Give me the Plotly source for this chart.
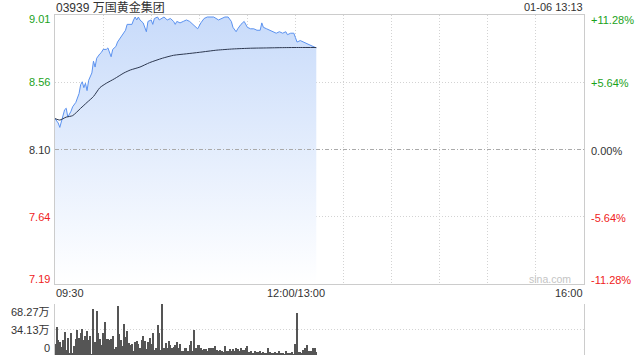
import plotly.graph_objects as go

# ---------------- data ----------------
title_text = "03939 万国黄金集团"
date_text = "01-06 13:13"
prev_close = 8.10
pct_levels = [11.28, 5.64, 0.0, -5.64, -11.28]
price_labels = ["9.01", "8.56", "8.10", "7.64", "7.19"]
pct_labels = ["+11.28%", "+5.64%", "0.00%", "-5.64%", "-11.28%"]
session_minutes = 330          # 09:30-12:00 + 13:00-16:00
x_tick_labels = ["09:30", "12:00/13:00", "16:00"]
x_tick_minutes = [0, 150, 330]

# price (minutes since 09:30, trading time)
t_price = [0, 2, 3, 5, 6, 7, 8, 10, 11, 13, 15, 16, 17, 18, 19, 20, 21, 23, 24, 25,
           26, 28, 29, 30, 32, 33, 34, 35, 36, 38, 39, 41, 43, 44, 45, 47, 48, 49, 50, 51,
           52, 53, 55, 57, 58, 60, 61, 62, 64, 65, 68, 70, 72, 74, 75, 76, 78, 80, 82, 84,
           86, 89, 91, 93, 95, 99, 102, 104, 106, 108, 110, 111, 113, 114, 116, 118, 120, 122, 124, 126,
           128, 129, 130, 132, 134, 136, 138, 140, 142, 144, 145, 147, 149, 150, 151, 153, 155, 157, 159, 161,
           163]
price = [8.31, 8.28, 8.25, 8.33, 8.37, 8.38, 8.32, 8.36, 8.39, 8.42, 8.48, 8.54, 8.56, 8.52, 8.55, 8.50, 8.57, 8.62, 8.70, 8.66,
         8.72, 8.75, 8.76, 8.78, 8.78, 8.79, 8.76, 8.73, 8.78, 8.80, 8.83, 8.86, 8.89, 8.91, 8.95, 8.95, 8.95, 8.98, 9.00, 8.98,
         9.00, 8.98, 8.96, 8.90, 8.97, 8.98, 8.95, 8.99, 9.00, 8.98, 9.00, 8.98, 8.99, 8.97, 8.95, 8.97, 8.96, 8.97, 8.98, 8.97,
         8.95, 8.92, 8.96, 8.99, 9.00, 9.00, 8.98, 8.99, 9.00, 9.00, 8.97, 8.93, 8.90, 8.92, 8.95, 8.97, 8.93, 8.92, 8.92, 8.91,
         8.91, 8.96, 8.93, 8.92, 8.91, 8.90, 8.89, 8.90, 8.89, 8.90, 8.88, 8.89, 8.89, 8.86, 8.83, 8.84, 8.83, 8.82, 8.81, 8.80,
         8.79]

# average price
t_avg = [0, 3, 7, 11, 16, 20, 24, 28, 32, 37, 43, 47, 53, 59, 67, 74, 82, 90, 101, 111, 122, 132, 142, 153, 163]
avg_price = [8.31, 8.30, 8.32, 8.33, 8.38, 8.42, 8.46, 8.52, 8.55, 8.58, 8.62, 8.64, 8.66, 8.69, 8.72, 8.74, 8.75,
             8.76, 8.775, 8.783, 8.788, 8.79, 8.792, 8.793, 8.793]

# volume per minute (万股)
volume = [15, 37, 20.5, 18, 11, 20.5, 31, 7, 23, 3, 29, 2, 12, 22, 33, 23, 30, 35, 20, 26,
          32, 20, 26, 1, 61, 17, 59, 29, 21, 14, 29, 44, 21, 22, 20, 21, 26, 8, 11, 66,
          28, 20, 12, 41, 24, 32, 16, 14, 15, 6, 18, 19, 15, 9, 20, 26, 19,
          8, 18, 23, 15, 29, 7, 10, 40, 29, 7, 68.27, 9, 16, 9, 19, 13, 10, 11, 13, 17,
          10, 15, 5, 6, 10, 10, 6, 13, 19, 6, 33, 10, 13, 13, 10, 7, 8, 8, 5, 10,
          9, 10, 10, 12, 7, 6, 7, 5, 4, 12, 5, 6, 8,
          6, 8, 6, 9, 8, 5, 10, 7, 7, 9, 12, 4, 5, 3, 3, 5, 4, 4, 5, 3,
          4, 3, 2, 10, 4, 2, 2, 4, 3, 2, 5, 2, 3, 1, 5, 2, 2, 2, 4, 1,
          15, 56, 4, 4, 3, 7, 9, 13, 6, 5, 5, 10, 10, 4]
vol_max = 68.27
vol_labels = ["68.27万", "34.13万", "0"]

# ---------------- layout helpers ----------------
W, H = 640, 360
PL, PR = 55, 584           # plot left / right px
MT, MB = 15, 284           # main top / bottom px
VT, VB = 304, 355          # volume top / bottom px

levels = [prev_close * (1 + p / 100) for p in pct_levels]
y_hi, y_lo = levels[0], levels[-1]

FONT = "Arial, Liberation Sans, Noto Sans CJK SC, sans-serif"
GREEN, RED, DARK = "#1aa21a", "#f02222", "#333333"
GRID = "#d3d3d3"
BORDER = "#cccccc"


def label_color(p):
    return GREEN if p > 0 else (RED if p < 0 else DARK)


fig = go.Figure()

fig.add_trace(go.Scatter(
    x=t_price, y=price, mode="lines",
    line=dict(color="#5b92f0", width=1),
    fill="tozeroy",
    fillgradient=dict(type="vertical", start=y_lo, stop=y_hi,
                      colorscale=[[0, "rgba(255,255,255,1)"], [0.06, "rgba(252,253,255,1)"],
                                  [1, "rgb(200,219,250)"]]),
    hoverinfo="skip", xaxis="x", yaxis="y"))

fig.add_trace(go.Scatter(
    x=t_avg, y=avg_price, mode="lines", line=dict(color="#2d3850", width=1, shape="spline", smoothing=0.6),
    hoverinfo="skip", xaxis="x", yaxis="y"))

fig.add_trace(go.Bar(
    x=list(range(len(volume))), y=volume, width=0.62,
    marker=dict(color="#555555", line=dict(width=0)),
    hoverinfo="skip", xaxis="x2", yaxis="y2"))

xdom = [PL / W, PR / W]
fig.update_layout(
    width=W, height=H, margin=dict(l=0, r=0, t=0, b=0),
    paper_bgcolor="white", plot_bgcolor="white", showlegend=False,
    font=dict(family=FONT, size=11, color=DARK),
    bargap=0,
    xaxis=dict(domain=xdom, range=[0, session_minutes], anchor="y",
               tickvals=list(range(0, session_minutes + 1, 30)), showticklabels=False, ticks="",
               showgrid=True, gridcolor=GRID, griddash="1px,2px", gridwidth=1,
               showline=True, linecolor=BORDER, linewidth=1, mirror=True, zeroline=False),
    yaxis=dict(domain=[1 - MB / H, 1 - MT / H], range=[y_lo, y_hi], anchor="x",
               tickvals=[levels[1], levels[3]], showticklabels=False, ticks="",
               showgrid=True, gridcolor=GRID, griddash="1px,2px", gridwidth=1,
               showline=True, linecolor=BORDER, linewidth=1, mirror=True, zeroline=False),
    xaxis2=dict(domain=xdom, range=[0, session_minutes], anchor="y2",
                showticklabels=False, ticks="", showgrid=False, showline=False, zeroline=False),
    yaxis2=dict(domain=[1 - VB / H, 1 - VT / H], range=[0, vol_max], anchor="x2",
                tickvals=[0, vol_max / 2, vol_max], showticklabels=False, ticks="",
                showgrid=True, gridcolor=GRID, griddash="1px,2px", gridwidth=1,
                showline=True, linecolor=BORDER, linewidth=1, mirror=True, zeroline=False),
)

# previous close reference line
fig.add_shape(type="line", xref="paper", x0=xdom[0], x1=xdom[1], yref="y", y0=prev_close, y1=prev_close,
              line=dict(color="#aaaaaa", width=1, dash="4px,2px,1px,2px"), layer="above")

ann = []
ann.append(dict(text=title_text, xref="paper", yref="paper", x=PL / W - 0.002, y=1 - 7 / H,
                xanchor="left", yanchor="middle", showarrow=False, font=dict(size=12, color=DARK)))
ann.append(dict(text=date_text, xref="paper", yref="paper", x=PR / W + 0.002, y=1 - 7 / H,
                xanchor="right", yanchor="middle", showarrow=False, font=dict(size=11, color=DARK)))

# vertical pixel shift of labels (positive = up): edge labels sit inside the frame
shifts = [-4.5, 0, 0, 0, 5.5]
for lv, pl, pc, p, s in zip(levels, price_labels, pct_labels, pct_levels, shifts):
    c = label_color(p)
    ann.append(dict(text=pl, xref="paper", yref="y", x=(PL - 3) / W, y=lv, yshift=s,
                    xanchor="right", yanchor="middle", showarrow=False, font=dict(size=11, color=c)))
    ann.append(dict(text=pc, xref="paper", yref="y", x=(PR + 5) / W, y=lv, yshift=s - 1,
                    xanchor="left", yanchor="middle", showarrow=False, font=dict(size=11, color=c)))

anchors = ["left", "center", "right"]
for lab, m, a in zip(x_tick_labels, x_tick_minutes, anchors):
    ann.append(dict(text=lab, xref="x", yref="paper", x=m, y=1 - 293 / H,
                    xanchor=a, yanchor="middle", showarrow=False, font=dict(size=11, color=DARK),
                    xshift=(-1 if a == "left" else 1)))

vol_vals = [vol_max, vol_max / 2, 0]
vshifts = [-8, 0, 7]
for lab, v, s in zip(vol_labels, vol_vals, vshifts):
    ann.append(dict(text=lab, xref="paper", yref="y2", x=(PL - 3) / W, y=v, yshift=s,
                    xanchor="right", yanchor="middle", showarrow=False, font=dict(size=11, color=DARK)))

ann.append(dict(text="sina.com", xref="paper", yref="y", x=(PR - 11) / W, y=y_lo, yshift=5,
                xanchor="right", yanchor="middle", showarrow=False, font=dict(size=10.5, color="#c4c4c4")))

fig.update_layout(annotations=ann)
fig.write_html("out.html")
